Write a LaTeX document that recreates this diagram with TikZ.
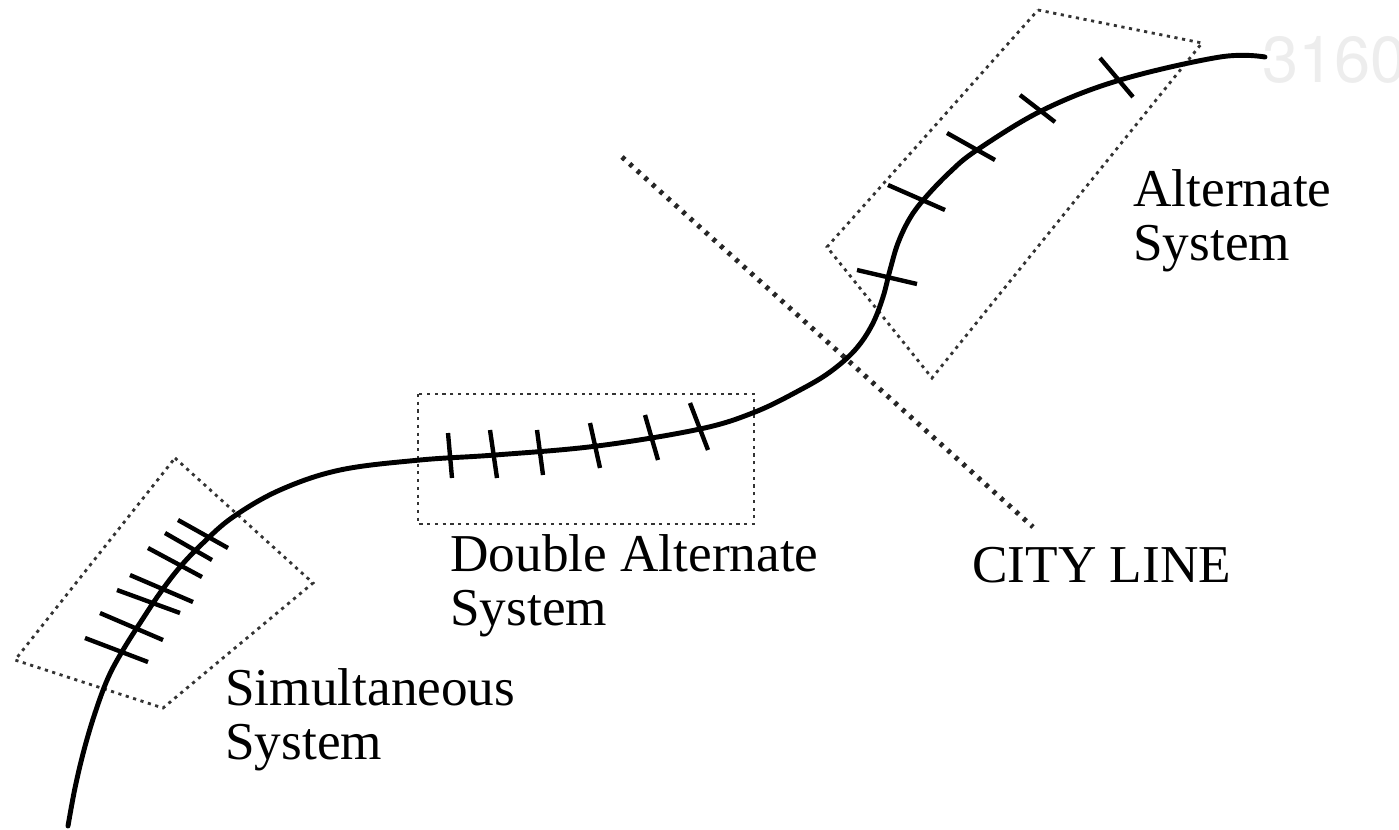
\documentclass[tikz,border=0pt]{standalone}
\usepackage{fontspec}
\setmainfont{Liberation Serif}
\newfontfamily\markfont{TeX Gyre Heros}
\begin{document}
\begin{tikzpicture}[x=0.02cm,y=-0.02cm,
  track/.style={line width=2.8pt,line cap=round},
  tick/.style={line width=2.5pt},
  zone/.style={draw=black!80,line width=1.6pt,dash pattern=on 1.8pt off 2.6pt},
  cityline/.style={draw=black!85,line width=2.8pt,dash pattern=on 2.2pt off 3.6pt},
  lbl/.style={anchor=base west,inner sep=0pt,align=left,font=\fontsize{30.3}{30.2}\selectfont}]
\useasboundingbox (0,0) rectangle (1399,829);

% dotted zones
\draw[zone] (418,394) rectangle (754,524);
\draw[zone] (175,458) -- (313,583) -- (163,708) -- (15,660) -- cycle;
\draw[zone] (1038,10) -- (1202,43) -- (932,378) -- (827,247) -- cycle;

% city line
\draw[cityline] (622,157) -- (1033,527);

% the track
\draw[track] plot[smooth,tension=0.6] coordinates {(68,826) (75,788) (84,750) (95,713)
  (108,678) (123,650) (142,620) (160,593) (180,567) (203,543) (233,517) (280,490)
  (340,470) (420,460) (495,455) (597,446) (700,429) (755,412) (800,390) (830,372)
  (855,350) (872,325) (883,297) (890,270) (898,243) (910,218) (925,198) (950,172)
  (977,150) (1043,110) (1120,80) (1220,57) (1265,57)};

% ticks
\foreach \xa/\ya/\xb/\yb in {85/638/148/662, 100/613/163/640, 117/590/180/613,
  130/575/193/602, 148/548/202/577, 165/533/212/560, 178/520/228/548}
  \draw[tick] (\xa,\ya) -- (\xb,\yb);
\foreach \xa/\ya/\xb/\yb in {448/433/452/478, 490/430/497/478, 537/430/543/475,
  590/423/600/468, 645/415/658/460, 690/403/708/450}
  \draw[tick] (\xa,\ya) -- (\xb,\yb);
\foreach \xa/\ya/\xb/\yb in {857/270/917/284, 888/185/945/210, 947/133/995/160,
  1020/95/1055/122, 1100/58/1133/97}
  \draw[tick] (\xa,\ya) -- (\xb,\yb);

% labels (base = last line)
\node[lbl] (simlabel) at (225,759) {Simultaneous\\System};
\node[lbl] (dbllabel) at (450,625) {Double Alternate\\System};
\node[lbl] (citylabel) at (972,582) {CITY LINE};
\node[lbl] (altlabel) at (1133,260) {Alternate\\System};
\node[anchor=base west,inner sep=0pt,text=black!7,font=\markfont\fontsize{37}{37}\selectfont] (figno) at (1262,82) {3160};
\end{tikzpicture}
\end{document}
